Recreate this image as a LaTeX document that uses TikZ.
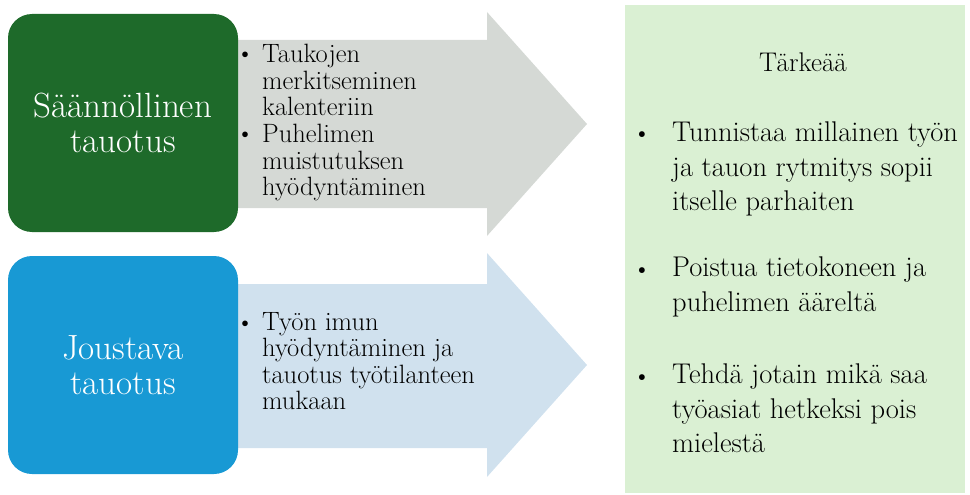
\documentclass[tikz,border=0pt]{standalone}

\definecolor{darkgreen}{RGB}{30,106,42}
\definecolor{arrowgray}{RGB}{213,217,213}
\definecolor{skyblue}{RGB}{24,153,212}
\definecolor{paleblue}{RGB}{208,225,238}
\definecolor{palegreen}{RGB}{218,240,211}

\begin{document}
\begin{tikzpicture}[x=1pt,y=-1pt,
		box/.style={rounded corners=24pt, minimum width=230pt, minimum height=218pt, align=center, text=white, font=\fontsize{35}{35}\selectfont},
		item/.style={anchor=north west, inner sep=0pt, align=left, font=\fontsize{26.5}{26.5}\selectfont},
		dot/.style={anchor=base, inner sep=0pt, font=\fontsize{25}{26.5}\selectfont},
		point/.style={anchor=north west, inner sep=0pt, align=left, font=\fontsize{28.5}{34.5}\selectfont},
		bigdot/.style={anchor=base, inner sep=0pt, font=\fontsize{26}{34.5}\selectfont}]

		\useasboundingbox (0,0) rectangle (970,495);

		% arrows behind the boxes
		\fill[arrowgray] (200,40) -- (487,40) -- (487,12) -- (587,124) -- (487,236) -- (487,208) -- (200,208) -- cycle;
		\fill[paleblue] (200,284) -- (487,284) -- (487,253) -- (587,365) -- (487,477) -- (487,448) -- (200,448) -- cycle;

		\node[box, fill=darkgreen] (regular) at (123,123) {Säännöllinen\\tauotus};
		\node[box, fill=skyblue]   (flexible) at (123,365) {Joustava\\tauotus};

		\node[dot] (d1) at (245,62)  {•};
		\node[item] (calendar) at (262,44)  {Taukojen\\merkitseminen\\kalenteriin};
		\node[dot] (d2) at (245,142) {•};
		\node[item] (phone) at (262,124) {Puhelimen\\muistutuksen\\hyödyntäminen};
		\node[dot] (d3) at (245,330) {•};
		\node[item] (flow) at (262,312) {Työn imun\\hyödyntäminen ja\\tauotus työtilanteen\\mukaan};

		\node[fill=palegreen, anchor=north west, minimum width=340pt, minimum height=488pt] (panel) at (625,5) {};
		\node[anchor=base, font=\fontsize{27}{30}\selectfont] (title) at (803,72) {Tärkeää};

		\node[bigdot] (p1) at (642,142) {•};
		\node[point] (rhythm) at (672,122) {Tunnistaa millainen työn\\ja tauon rytmitys sopii\\itselle parhaiten};
		\node[bigdot] (p2) at (642,277) {•};
		\node[point] (away) at (672,257) {Poistua tietokoneen ja\\puhelimen ääreltä};
		\node[bigdot] (p3) at (642,384) {•};
		\node[point] (mind) at (672,364) {Tehdä jotain mikä saa\\työasiat hetkeksi pois\\mielestä};

\end{tikzpicture}
\end{document}
